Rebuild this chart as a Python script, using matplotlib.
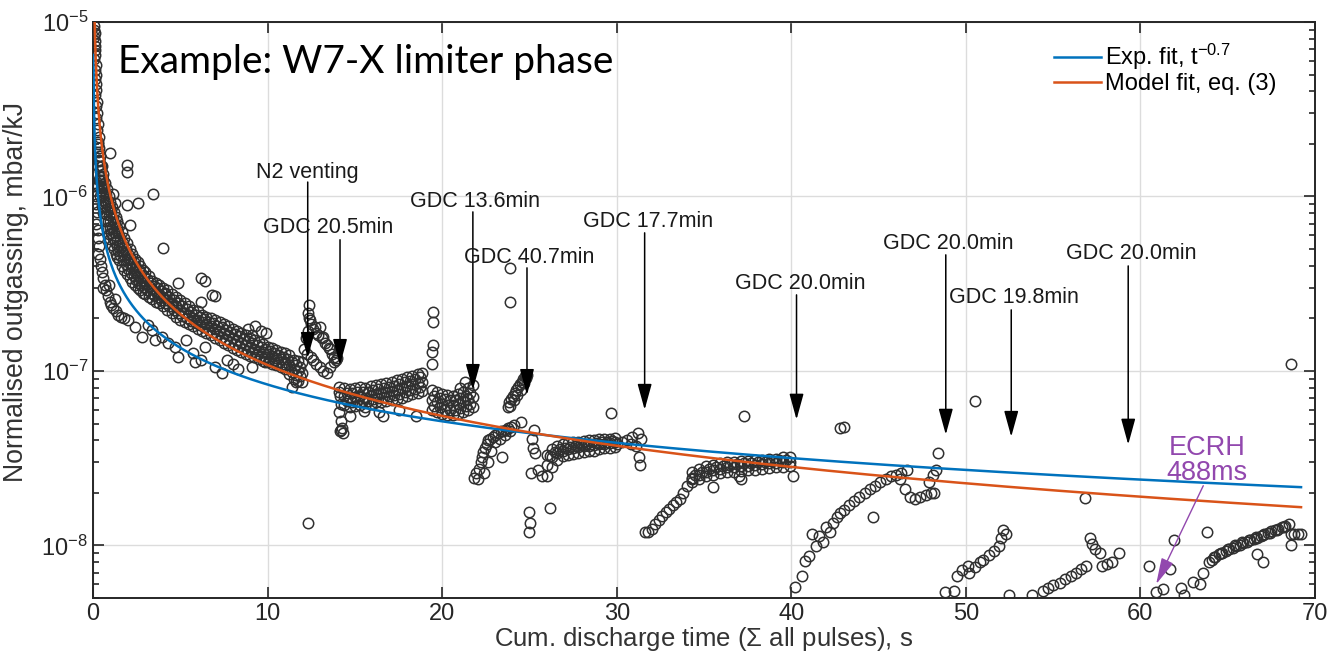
import numpy as np
import matplotlib
matplotlib.use("Agg")
import matplotlib.pyplot as plt

plt.rcParams['font.family'] = ['Liberation Sans', 'DejaVu Sans']
plt.rcParams['mathtext.fontset'] = 'custom'
plt.rcParams['mathtext.rm'] = 'Liberation Sans'
plt.rcParams['mathtext.it'] = 'Liberation Sans:italic'

# outgassing values are given in units of 1e-8 mbar/kJ
UNIT = 1e-8

# --- first days, steep decay near t = 0
start_t = [0.05, 0.08, 0.10, 0.06, 0.12, 0.09, 0.14, 0.11, 0.07, 0.16, 0.12, 0.18, 0.10, 0.15, 0.20, 0.13,
           0.22, 0.17, 0.25, 0.20, 0.28, 0.24, 0.32, 0.27, 0.36, 0.30, 0.40, 0.34, 0.45, 0.38, 0.50, 0.42,
           0.55, 0.47, 0.60]
start_y = [950, 900, 860, 820, 780, 730, 690, 650, 610, 570, 530, 500, 470, 440, 410, 380,
           350, 330, 300, 280, 260, 240, 220, 205, 190, 180, 170, 160, 150, 140, 130, 125,
           118, 112, 105]

low0_t = [0.12, 0.15, 0.18, 0.22, 0.20, 0.26, 0.30, 0.35, 0.28, 0.40, 0.45, 0.52, 0.60, 0.68, 0.75, 0.85,
          0.95, 1.05, 1.15, 1.30, 1.45, 1.60, 1.80, 0.55, 0.90, 1.25]
low0_y = [120, 100, 90, 82, 70, 64, 58, 52, 47, 44, 40, 37, 34, 31, 29, 27,
          25, 24, 23, 22, 21, 20.5, 20, 30, 31, 26]

# main band before N2 venting
bandA_t = [0.3, 0.4, 0.5, 0.6, 0.7, 0.8, 0.9, 1.0, 1.1, 1.2, 1.3, 1.4, 1.5, 1.65, 1.8, 1.95, 2.1, 2.25,
           2.4, 2.55, 2.7, 2.85, 3.0, 3.2, 3.4, 3.6, 3.8, 4.0, 4.25, 4.5, 4.75, 5.0, 5.25, 5.5, 5.75,
           6.0, 6.25, 6.5, 6.75, 7.0, 7.25, 7.5, 7.75, 8.0, 8.25, 8.5, 8.75, 9.0, 9.25, 9.5, 9.75,
           10.0, 10.25, 10.5, 10.75, 11.0, 11.25, 11.5, 11.75, 12.0]
bandA_hi = [200, 170, 150, 135, 120, 110, 100, 93, 87, 81, 76, 72, 68, 63, 58, 54, 50, 47,
            44, 42, 40, 38, 37, 35, 33, 32, 31, 30, 29, 27.5, 26.5, 25.5, 24.5, 23.5, 22.5,
            22, 21, 20.5, 20, 19.5, 19, 18.5, 18, 17.5, 17, 16.5, 16, 15.5, 15, 14.6, 14.2,
            13.8, 13.5, 13.2, 12.9, 12.6, 12.3, 11.6, 11.4, 11.2]
bandA_mid = [150, 130, 115, 102, 93, 85, 78, 72, 67, 63, 59, 56, 53, 49, 46, 43, 41, 39,
             37, 35, 34, 33, 32, 30.5, 29.5, 28.5, 27.5, 26.5, 25.5, 24.5, 23.5, 22.5, 21.5, 21, 20,
             19.5, 19, 18.5, 18, 17.5, 17, 16.5, 16, 15.5, 15, 14.5, 14, 13.7, 13.4, 13.1, 12.8,
             12.5, 12.2, 11.9, 11.7, 11.3, 10.8, 10.2, 10.0, 9.8]
bandA_lo = [115, 100, 88, 80, 72, 66, 61, 57, 53, 50, 47, 45, 43, 40, 38, 36, 34, 32.5,
            31, 30, 29, 28, 27.5, 26.5, 26, 25, 24.5, 23.5, 22.5, 21.5, 20.5, 19.5, 19, 18.5, 18,
            17.5, 17, 16.5, 16, 15.5, 15, 14.5, 14, 13.5, 13.2, 12.8, 12.5, 12.2, 12, 11.7, 11.4,
            11.2, 11, 10.8, 10.6, 10.2, 9.6, 9.0, 8.8, 8.6]
# second staggered pass through the same band
bandA_t2 = [0.35, 0.45, 0.55, 0.65, 0.75, 0.85, 0.95, 1.05, 1.15, 1.25, 1.35, 1.45, 1.575, 1.725, 1.875,
            2.025, 2.175, 2.325, 2.475, 2.625, 2.775, 2.925, 3.1, 3.3, 3.5, 3.7, 3.9, 4.125, 4.375, 4.625,
            4.875, 5.125, 5.375, 5.625, 5.875, 6.125, 6.375, 6.625, 6.875, 7.125, 7.375, 7.625, 7.875,
            8.125, 8.375, 8.625, 8.875, 9.125, 9.375, 9.625, 9.875, 10.125, 10.375, 10.625, 10.875,
            11.125, 11.375, 11.625, 11.875]
bandA_uq = [162, 141, 125, 112, 102, 93, 86, 80, 74.5, 70, 66, 62, 58, 54, 50, 47, 44, 42, 39.5, 37.8,
            36.2, 35, 33.6, 32, 30.8, 29.8, 28.8, 27.8, 26.6, 25.5, 24.5, 23.5, 22.6, 21.8, 21, 20.4,
            19.8, 19.2, 18.8, 18.2, 17.8, 17.2, 16.8, 16.2, 15.8, 15.2, 14.8, 14.4, 14.0, 13.7, 13.3,
            13.0, 12.7, 12.4, 12.1, 11.75, 11.2, 10.8, 10.6]
bandA_lq = [124, 108, 96, 87, 79, 72.5, 67, 62, 58, 55, 52, 49, 46, 43, 41, 38.5, 36.6, 34.9, 33.2, 32,
            31, 30.1, 29.1, 28.1, 27.2, 26.4, 25.5, 24.5, 23.5, 22.5, 21.5, 20.6, 20, 19.4, 18.75, 18.25,
            17.75, 17.25, 16.75, 16.25, 15.75, 15.25, 14.75, 14.3, 13.9, 13.45, 13.1, 12.8, 12.55, 12.25,
            12.0, 11.7, 11.5, 11.25, 10.95, 10.5, 9.9, 9.5, 9.3]

lowA_t = [2.0, 2.4, 2.8, 3.4, 3.95, 4.7, 5.3, 5.7, 6.2, 7.0, 7.7, 8.3, 9.1, 9.85, 11.4, 11.6,
          4.87, 5.85, 6.4, 4.3, 3.15, 3.55, 7.4, 8.0, 8.9, 9.3, 9.6, 9.9, 9.1]
lowA_y = [19.7, 17.9, 15.7, 17.2, 15.7, 13.8, 15.1, 12.7, 11.6, 10.6, 11.6, 10.2, 10.6, 11.2, 8.1, 8.7,
          12.1, 11.2, 13.8, 14.5, 18.4, 15.1, 9.8, 10.9, 17.5, 18.0, 17.0, 16.5, 16.0]

highA_t = [0.97, 1.95, 1.95, 3.44, 2.58, 1.95, 2.12, 4.0, 1.15, 1.26, 4.87, 6.2, 6.8, 6.2, 4.1, 6.4, 7.0]
highA_y = [177, 151, 138, 104, 92, 89.5, 68.8, 50.8, 104, 92, 32, 34.2, 27.3, 24.9, 28.1, 33, 27]

# N2 venting
venting_t = [12.35, 12.3, 12.4, 12.45, 12.5, 12.3, 12.6, 12.7, 12.8, 12.9, 13.0, 13.1, 13.2, 13.3, 13.4,
             13.5, 13.6, 13.7, 13.8, 13.9, 12.2, 12.1, 12.25, 12.5, 12.6, 12.8, 13.0, 13.2, 13.4, 13.6,
             13.8, 14.0, 12.3]
venting_y = [24, 21.5, 20, 19.5, 18.5, 17, 17.5, 17.8, 16.5, 16, 17.9, 15.5, 15.7, 14.5, 14,
             13.5, 13.3, 12.5, 12, 11.5, 15.5, 13.3, 12.5, 12, 11.5, 11, 10.5, 10, 9.8, 10.5,
             11.2, 11.8, 1.34]

# after GDC 20.5 min
dropC_t = [14.1, 14.15, 14.2, 14.1, 14.2, 14.25, 14.15, 14.3, 14.2, 14.1]
dropC_y = [8.1, 7.2, 6.5, 5.8, 5.2, 4.7, 4.5, 4.4, 4.6, 7.6]

bandC_t = [14.4, 14.7, 15.0, 15.3, 15.6, 15.9, 16.2, 16.5, 16.8, 17.1, 17.4, 17.7, 18.0, 18.3, 18.6, 18.85]
bandC_hi = [8.0, 7.9, 8.0, 8.1, 8.0, 8.2, 8.3, 8.4, 8.5, 8.7, 8.9, 9.0, 9.2, 9.4, 9.6, 9.8]
bandC_mid = [7.2, 7.0, 7.1, 7.2, 7.0, 7.3, 7.4, 7.5, 7.6, 7.7, 7.8, 8.0, 8.2, 8.4, 8.5, 8.7]
bandC_lo = [6.4, 6.2, 6.3, 6.4, 6.2, 6.5, 6.6, 6.6, 6.7, 6.8, 6.9, 7.0, 7.2, 7.4, 7.5, 7.7]
bandC_t2 = [14.55, 14.85, 15.15, 15.45, 15.75, 16.05, 16.35, 16.65, 16.95, 17.25, 17.55, 17.85, 18.15,
            18.45, 18.75]
bandC_uq = [7.5, 7.5, 7.6, 7.6, 7.6, 7.8, 7.9, 8.0, 8.1, 8.2, 8.4, 8.6, 8.8, 9.0, 9.2]
bandC_lq = [6.7, 6.6, 6.7, 6.7, 6.7, 6.9, 7.0, 7.1, 7.2, 7.3, 7.4, 7.6, 7.8, 7.9, 8.1]

bandC2_t = [19.4, 19.7, 20.0, 20.3, 20.6, 20.9, 21.2, 21.5, 21.75]
bandC2_hi = [7.8, 7.6, 7.4, 7.3, 7.2, 7.4, 7.6, 8.0, 8.3]
bandC2_mid = [6.8, 6.6, 6.5, 6.4, 6.4, 6.5, 6.7, 6.9, 7.1]
bandC2_lo = [6.0, 5.8, 5.7, 5.6, 5.6, 5.7, 5.8, 6.0, 6.2]
bandC2_t2 = [19.55, 19.85, 20.15, 20.45, 20.75, 21.05, 21.35, 21.6]
bandC2_uq = [7.2, 7.0, 6.9, 6.8, 6.8, 7.0, 7.2, 7.5]
bandC2_lq = [6.3, 6.2, 6.0, 6.0, 6.0, 6.1, 6.3, 6.5]

otherC_t = [14.7, 16.6, 16.4, 18.5, 15.5, 17.5, 19.5, 19.5, 19.45, 19.4, 19.4, 21.3, 21.0]
otherC_y = [5.5, 5.5, 5.8, 5.5, 5.9, 6.0, 21.9, 19.2, 14.1, 12.9, 10.9, 8.6, 8.0]

# after GDC 13.6 min
segD_t = [21.85, 21.95, 22.05, 22.1, 22.2, 22.3, 22.35, 22.45, 22.55, 22.65, 22.75, 22.9, 23.05, 23.2,
          23.35, 23.5, 23.65, 23.8, 23.95, 24.1, 22.4, 22.6, 22.8, 23.0, 23.3, 23.6, 23.9, 23.45]
segD_y = [2.45, 2.6, 2.4, 2.75, 3.0, 3.2, 3.45, 3.6, 3.8, 4.0, 4.1, 4.2, 4.3, 4.4,
          4.5, 4.55, 4.6, 4.7, 4.8, 4.9, 2.6, 3.0, 3.5, 3.9, 4.1, 4.3, 4.5, 3.2]

segD2_t = [23.75, 23.85, 23.95, 24.05, 24.15, 24.25, 24.35, 24.45, 24.55, 24.65, 24.75, 24.85,
           23.9, 24.1, 24.3, 24.5, 24.7, 24.8, 23.9, 23.9, 24.5]
segD2_y = [6.2, 6.6, 6.9, 7.2, 7.5, 7.8, 8.1, 8.4, 8.7, 9.0, 9.3, 9.5,
           6.3, 6.8, 7.3, 7.8, 8.5, 9.1, 39, 24.9, 5.1]

# after GDC 40.7 min
dropE0_t = [25.0, 25.05, 24.95, 25.1, 25.2, 25.15, 25.25, 25.3, 25.5, 25.7, 26.2, 29.7]
dropE0_y = [1.2, 1.35, 1.55, 2.6, 3.6, 4.1, 4.6, 3.4, 2.7, 2.5, 1.65, 5.78]

bandE0_t = [26.0, 26.3, 26.6, 26.9, 27.2, 27.5, 27.8, 28.1, 28.4, 28.7, 29.0, 29.3, 29.6, 29.9]
bandE0_hi = [3.3, 3.55, 3.7, 3.8, 3.85, 3.9, 3.9, 3.95, 4.0, 4.0, 4.05, 4.1, 4.1, 4.15]
bandE0_mid = [2.9, 3.2, 3.4, 3.5, 3.55, 3.6, 3.65, 3.7, 3.7, 3.75, 3.8, 3.8, 3.85, 3.9]
bandE0_lo = [2.5, 2.8, 3.1, 3.25, 3.3, 3.35, 3.4, 3.45, 3.5, 3.5, 3.55, 3.6, 3.6, 3.65]
bandE0_t2 = [26.15, 26.45, 26.75, 27.05, 27.35, 27.65, 27.95, 28.25, 28.55, 28.85, 29.15, 29.45, 29.75]
bandE0_q = [3.25, 3.45, 3.55, 3.62, 3.67, 3.72, 3.76, 3.8, 3.82, 3.85, 3.9, 3.92, 3.97]

tailE0_t = [30.0, 30.3, 30.6, 30.9, 31.2, 31.4, 30.8, 31.1, 31.3, 31.35]
tailE0_y = [3.8, 3.9, 4.0, 4.2, 4.4, 4.1, 3.8, 3.7, 3.2, 2.9]

# after GDC 17.7 min
riseE_t = [31.6, 31.8, 32.0, 32.2, 32.4, 32.6, 32.8, 33.0, 33.2, 33.4, 33.6, 33.8, 34.0, 34.3]
riseE_y = [1.19, 1.2, 1.25, 1.32, 1.4, 1.48, 1.55, 1.62, 1.7, 1.78, 1.85, 2.0, 2.2, 2.4]

bandE_t = [34.3, 34.7, 35.1, 35.5, 35.9, 36.3, 36.7, 37.1, 37.5, 37.9, 38.3, 38.7, 39.1, 39.5, 39.9]
bandE_hi = [2.65, 2.75, 2.85, 2.9, 2.95, 3.0, 3.0, 3.05, 3.05, 3.1, 3.1, 3.15, 3.15, 3.2, 3.2]
bandE_mid = [2.45, 2.55, 2.65, 2.7, 2.75, 2.8, 2.82, 2.85, 2.87, 2.9, 2.92, 2.95, 2.97, 3.0, 3.0]
bandE_lo = [2.3, 2.4, 2.5, 2.55, 2.6, 2.62, 2.65, 2.68, 2.7, 2.72, 2.75, 2.77, 2.8, 2.82, 2.85]
bandE_t2 = [34.5, 34.9, 35.3, 35.7, 36.1, 36.5, 36.9, 37.3, 37.7, 38.1, 38.5, 38.9, 39.3, 39.7]
bandE_q = [2.55, 2.65, 2.75, 2.8, 2.85, 2.9, 2.92, 2.95, 2.97, 3.0, 3.02, 3.05, 3.07, 3.1]

otherE_t = [37.3, 35.5, 37.1, 40.1, 37.0]
otherE_y = [5.55, 2.15, 2.39, 2.49, 2.5]

# after GDC 20.0 min (1)
segF_t = [40.2, 40.6, 40.8, 41.0, 41.2, 41.4, 41.6, 41.8, 42.0, 42.2, 42.4, 42.6, 42.8, 43.0, 43.3, 43.6,
          43.9, 44.2, 44.5, 44.8, 45.1, 45.4, 45.7, 46.0, 46.3, 46.6, 44.7, 46.2, 46.5, 46.8, 47.1,
          47.4, 47.7, 48.0, 48.1, 48.4, 48.2, 47.9, 48.3, 42.8, 43.0]
segF_y = [0.58, 0.67, 0.81, 0.87, 1.16, 0.99, 1.13, 1.05, 1.28, 1.2, 1.35, 1.45, 1.54, 1.6, 1.7, 1.8,
          1.9, 2.0, 2.1, 2.2, 2.3, 2.4, 2.5, 2.55, 2.6, 2.7, 1.46, 2.39, 2.1, 1.9, 1.85,
          1.9, 1.95, 2.0, 2.55, 3.4, 2.0, 2.3, 2.7, 4.73, 4.8]

# after GDC 20.0 min (2)
segG_t = [48.8, 49.3, 49.5, 49.8, 50.1, 50.2, 50.5, 50.8, 51.0, 51.3, 51.6, 51.9, 52.0, 52.1, 52.3, 50.5, 56.8]
segG_y = [0.54, 0.55, 0.67, 0.72, 0.76, 0.70, 0.75, 0.80, 0.83, 0.88, 0.93, 0.99, 1.11, 1.23, 1.16, 6.7, 1.88]

# after GDC 19.8 min
segH_t = [52.5, 53.8, 54.4, 54.7, 55.0, 55.4, 55.7, 56.0, 56.3, 56.6, 56.9, 57.1, 57.2, 57.4, 57.7,
          57.8, 58.1, 58.4, 58.8]
segH_y = [0.52, 0.52, 0.55, 0.57, 0.59, 0.61, 0.64, 0.67, 0.70, 0.73, 0.76, 1.11, 1.02, 0.95, 0.91,
          0.76, 0.78, 0.80, 0.91]

# after GDC 20.0 min (3)
segI_t = [60.5, 60.9, 61.3, 61.7, 61.9, 62.3, 62.5, 63.0, 63.4, 63.6, 63.8, 63.9, 64.1, 64.3, 64.5,
          64.7, 64.9, 65.1, 65.3, 65.5, 65.7, 65.9, 66.1, 66.3, 66.5, 66.7, 66.9, 67.1, 67.3, 67.5,
          67.7, 67.9, 68.1, 68.3, 68.5, 66.7, 67.0, 68.6, 68.6, 68.8, 69.0, 69.2, 64.2, 64.6, 65.0,
          65.4, 65.8, 66.2, 66.6, 67.0, 67.4, 67.8, 68.2, 68.6]
segI_y = [0.76, 0.54, 0.56, 0.73, 1.08, 0.57, 0.52, 0.62, 0.60, 0.70, 1.2, 0.80, 0.83, 0.86, 0.89,
          0.91, 0.93, 0.95, 0.97, 0.99, 1.01, 1.03, 1.05, 1.07, 1.09, 1.11, 1.13, 1.16, 1.18, 1.21,
          1.23, 1.25, 1.27, 1.30, 1.33, 0.89, 0.80, 1.01, 1.16, 1.16, 1.16, 1.16, 0.86, 0.91, 0.96,
          1.01, 1.05, 1.08, 1.12, 1.15, 1.18, 1.22, 1.28, 11.0]

# fits
exp_fit_amp, exp_fit_pow = 41.9, 0.7        # t^-0.7
model_fit_amp, model_fit_pow = 101.0, 0.97  # eq. (3)
t_fit = np.linspace(0.02, 69.2, 2000)

# GDC / venting markers: label, text t, text y, arrow t, arrow start y, arrow tip y
events = [
    ("N2 venting", 12.3, 138, 12.3, 121, 11.9),
    ("GDC 20.5min", 13.46, 66, 14.15, 56.5, 10.85),
    ("GDC 13.6min", 21.9, 93, 21.76, 81.6, 7.8),
    ("GDC 40.7min", 25.0, 44.5, 24.86, 39, 7.3),
    ("GDC 17.7min", 31.8, 72, 31.6, 61.9, 6.0),
    ("GDC 20.0min", 40.5, 31.6, 40.3, 27.3, 5.27),
    ("GDC 20.0min", 49.0, 53.5, 48.85, 46.3, 4.32),
    ("GDC 19.8min", 52.75, 26.3, 52.6, 22.4, 4.2),
    ("GDC 20.0min", 59.45, 47, 59.3, 40, 3.79),
]

single = [(start_t, start_y), (low0_t, low0_y), (lowA_t, lowA_y), (highA_t, highA_y),
          (venting_t, venting_y), (dropC_t, dropC_y), (otherC_t, otherC_y),
          (segD_t, segD_y), (segD2_t, segD2_y), (dropE0_t, dropE0_y), (tailE0_t, tailE0_y),
          (riseE_t, riseE_y), (otherE_t, otherE_y), (segF_t, segF_y), (segG_t, segG_y),
          (segH_t, segH_y), (segI_t, segI_y)]
bands = [(bandA_t, [bandA_hi, bandA_mid, bandA_lo]), (bandA_t2, [bandA_uq, bandA_lq]),
         (bandC_t, [bandC_hi, bandC_mid, bandC_lo]), (bandC_t2, [bandC_uq, bandC_lq]),
         (bandC2_t, [bandC2_hi, bandC2_mid, bandC2_lo]), (bandC2_t2, [bandC2_uq, bandC2_lq]),
         (bandE0_t, [bandE0_hi, bandE0_mid, bandE0_lo]), (bandE0_t2, [bandE0_q]),
         (bandE_t, [bandE_hi, bandE_mid, bandE_lo]), (bandE_t2, [bandE_q])]

all_t = []
all_y = []
for tt, yy in single:
    all_t += tt
    all_y += yy
for tt, rows in bands:
    for r in rows:
        all_t += tt
        all_y += r
all_t = np.array(all_t)
all_y = np.array(all_y) * UNIT

fig = plt.figure(figsize=(13.29, 6.56), dpi=100)
ax = fig.add_axes([93 / 1329, 58 / 656, 1222 / 1329, 576 / 656])

axcol = '#262626'
ax.plot(all_t, all_y, 'o', mfc='none', mec='#303030', ms=7.5, mew=1.1, zorder=2)

l1, = ax.plot(t_fit, exp_fit_amp * UNIT * t_fit ** -exp_fit_pow, color='#0072BD', lw=1.8, zorder=3,
              label='Exp. fit, t$^{-0.7}$')
l2, = ax.plot(t_fit, model_fit_amp * UNIT * t_fit ** -model_fit_pow, color='#D95319', lw=1.8, zorder=3,
              label='Model fit, eq. (3)')

for label, tx, ty, ax_t, a0, a1 in events:
    ax.text(tx, ty * UNIT, label, ha='center', va='center', fontsize=15.5, color='#1a1a1a', zorder=5)
    ax.annotate('', xy=(ax_t, a1 * UNIT), xytext=(ax_t, a0 * UNIT),
                arrowprops=dict(arrowstyle='-|>,head_length=0.8,head_width=0.22', color='black',
                                lw=1.1, mutation_scale=20, shrinkA=0, shrinkB=0), zorder=5)

ecrh_col = '#9248AE'
ax.text(63.8, 3.05 * UNIT, 'ECRH\n488ms', ha='center', va='center', fontsize=19.5, color=ecrh_col,
        linespacing=0.95, zorder=5)
ax.annotate('', xy=(60.9, 0.6 * UNIT), xytext=(63.6, 2.2 * UNIT),
            arrowprops=dict(arrowstyle='-|>,head_length=0.9,head_width=0.22', color=ecrh_col,
                            lw=1.0, mutation_scale=18, shrinkA=0, shrinkB=0), zorder=5)

ax.text(0.0205, 0.93, 'Example: W7-X limiter phase', transform=ax.transAxes, fontsize=28,
        family=['Lato', 'DejaVu Sans'], ha='left', va='center', color='black', zorder=6)

ax.set_yscale('log')
ax.set_xlim(0, 70)
ax.set_ylim(5e-9, 1e-5)
ax.set_xticks(range(0, 71, 10))
ax.set_yticks([1e-8, 1e-7, 1e-6, 1e-5])
ax.grid(True, which='major', color='#dcdcdc', lw=1.0, zorder=0)
ax.set_axisbelow(True)
ax.tick_params(which='both', direction='in', top=True, right=True, colors=axcol, labelsize=17,
               width=1.2)
ax.tick_params(which='major', length=8)
ax.tick_params(which='minor', length=4.5)
ax.tick_params(axis='x', which='minor', bottom=False, top=False)
for s in ax.spines.values():
    s.set_color(axcol)
    s.set_linewidth(1.4)

ax.set_xlabel('Cum. discharge time ($\\Sigma$ all pulses), s', fontsize=18.5, color='#333333', labelpad=0)
ax.set_ylabel('Normalised outgassing, mbar/kJ', fontsize=19.2, color='#333333')
ax.yaxis.set_label_coords(-0.052, 0.532)

ax.legend(handles=[l1, l2], loc='upper right', bbox_to_anchor=(0.98, 0.99), frameon=False,
          fontsize=17, handlelength=2.0, handletextpad=0.15, labelspacing=0.05, borderaxespad=0.2)

fig.savefig('out.png', dpi=100)
